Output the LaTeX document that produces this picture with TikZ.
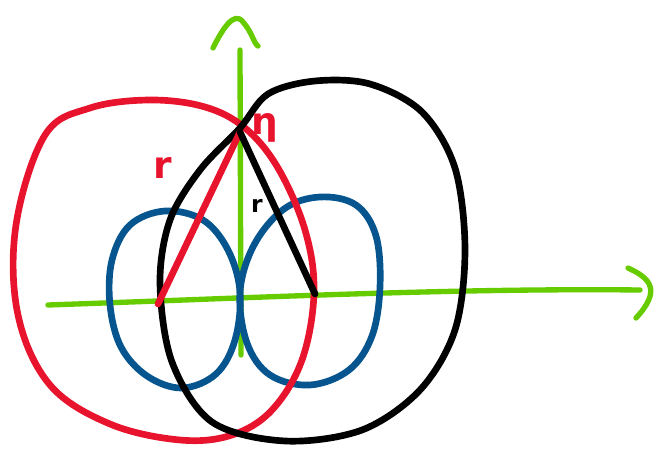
\documentclass[tikz,border=0pt]{standalone}
\usepackage{fontspec}
\setsansfont{DejaVu Sans}
\usepackage{tikz}
\usepackage{xcolor}
\definecolor{sketchred}{HTML}{E8132C}
\definecolor{sketchblue}{HTML}{07558F}
\definecolor{sketchgreen}{HTML}{66CC00}
\begin{document}
\begin{tikzpicture}[x=0.03cm,y=-0.03cm,line cap=round,line join=round]
        \useasboundingbox (0,0) rectangle (662,457);
        % axes
        \draw[sketchgreen,line width=1.6mm] (48,305) .. controls (250,298) and (450,288) .. (640,290);
        \draw[sketchgreen,line width=1.6mm] (628,268) .. controls (650,278) and (662,290) .. (636,318);
        \draw[sketchgreen,line width=1.6mm] (241,355) -- (240,50);
        \draw[sketchgreen,line width=1.6mm] (213,48) .. controls (222,30) and (234,10) .. (243,22) .. controls (252,32) and (254,44) .. (258,46);
        % loops
        \draw[sketchblue,line width=2mm] plot[smooth cycle,tension=0.6] coordinates {(240,292) (228,250) (203,220) (165,211) (130,225) (112,260) (110,305) (121,347) (147,376) (182,388) (216,374) (235,340)};
        \draw[sketchblue,line width=2mm] plot[smooth cycle,tension=0.6] coordinates {(240,292) (254,245) (284,209) (320,197) (356,205) (376,236) (380,287) (372,336) (349,370) (310,385) (270,375) (247,343)};
        % circles
        \draw[sketchred,line width=2mm] plot[smooth cycle,tension=0.6] coordinates {(45,135) (90,108) (150,100) (205,107) (245,128) (278,168) (305,230) (314,292) (302,360) (272,410) (232,435) (180,440) (110,424) (50,385) (18,315) (16,225)};
        \draw[line width=2mm] plot[smooth cycle,tension=0.55] coordinates {(240,128) (268,94) (315,81) (370,84) (422,112) (455,168) (465,250) (455,330) (420,390) (362,430) (285,441) (212,422) (172,362) (160,283) (170,220) (200,170)};
        % radii
        \coordinate (apex) at (240,132);
        \coordinate (lfoot) at (158,304);
        \coordinate (rfoot) at (315,294);
        \draw[sketchred,line width=2mm] (lfoot) -- (apex);
        \draw[line width=2mm] (apex) -- (rfoot);
        \node[sketchred,font=\fontsize{32}{32}\selectfont\sffamily\bfseries] (rred) at (163,168) {r};
        \node[sketchred,font=\fontsize{32}{32}\selectfont\sffamily\bfseries] (eta) at (265,128) {η};
        \node[font=\fontsize{20}{20}\selectfont\sffamily\bfseries] (rblack) at (257,206) {r};
      \end{tikzpicture}
\end{document}
